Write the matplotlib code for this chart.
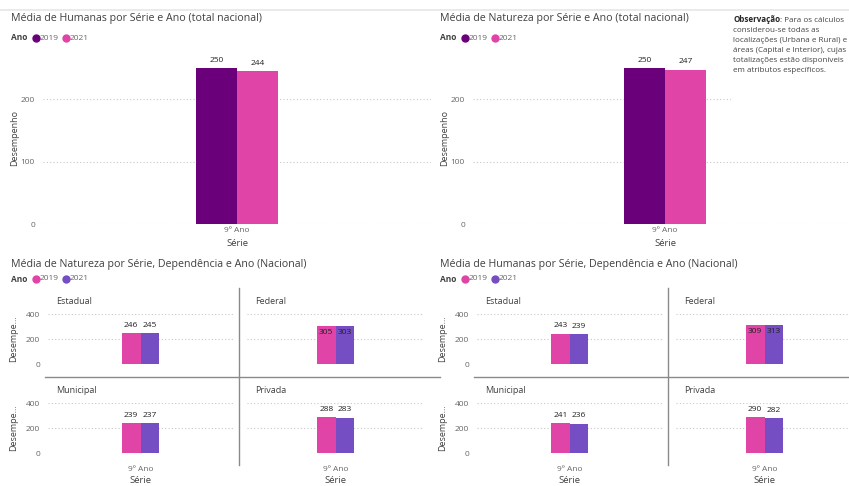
import matplotlib
matplotlib.use("Agg")
import matplotlib.pyplot as plt
from matplotlib.patches import Rectangle
from matplotlib.lines import Line2D

plt.rcParams['font.family'] = ['Open Sans', 'DejaVu Sans']

# ---------------- data ----------------
series_labels = ["9º Ano"]
years = ["2019", "2021"]
hum_total = [250, 244]
nat_total = [250, 247]
dependencias = ["Estadual", "Federal", "Municipal", "Privada"]
nat_dep_2019 = [246, 305, 239, 288]
nat_dep_2021 = [245, 303, 237, 283]
hum_dep_2019 = [243, 309, 241, 290]
hum_dep_2021 = [239, 313, 236, 282]

# ---------------- style ----------------
W, H = 849, 486
DARK = "#6B007B"
PINK = "#E044A7"
PURP = "#744EC2"
GRID = "#C8C8C8"
TXT = "#404040"
TICK = "#666666"
DIV = "#8A8A8A"

fig = plt.figure(figsize=(W / 100, H / 100), dpi=100)
fig.patch.set_facecolor("white")


def fx(x):
    return x / W


def fy(y):
    return 1 - y / H


def ax_px(x0, y0, x1, y1):
    return fig.add_axes([x0 / W, 1 - y1 / H, (x1 - x0) / W, (y1 - y0) / H])


def legend(x, y, c1, c2):
    fig.text(fx(x), fy(y), "Ano", fontsize=6, fontweight="bold", color=TXT, va="center")
    fig.add_artist(Line2D([fx(x + 25)], [fy(y)], transform=fig.transFigure,
                          marker="o", markersize=5, color=c1, linestyle="none"))
    fig.text(fx(x + 29), fy(y), years[0], fontsize=6, color=TICK, va="center")
    fig.add_artist(Line2D([fx(x + 55)], [fy(y)], transform=fig.transFigure,
                          marker="o", markersize=5, color=c2, linestyle="none"))
    fig.text(fx(x + 59), fy(y), years[1], fontsize=6, color=TICK, va="center")


def style_axis(ax):
    for s in ax.spines.values():
        s.set_visible(False)
    ax.set_axisbelow(True)
    ax.yaxis.grid(True, linestyle=(0, (1, 2)), color=GRID, linewidth=0.8)
    ax.tick_params(length=0, labelsize=6, labelcolor=TICK)
    ax.set_facecolor("none")


# ---------------- top charts ----------------
def top_chart(x0, x1, vals):
    ax = ax_px(x0, 50, x1, 224)
    ppu = 0.625  # pixels per unit
    ax.set_ylim(0, 174 / ppu)
    ax.set_xlim(-0.5, 0.5)
    bw = 41 / (x1 - x0)
    xs = [-bw / 2, bw / 2]
    cols = [DARK, PINK]
    for xpos, v, c in zip(xs, vals, cols):
        ax.bar(xpos, v, bw, color=c, zorder=3)
        ax.annotate(str(v), (xpos, v), xytext=(0, 3), textcoords="offset points",
                    ha="center", va="bottom", fontsize=6, color="#222222")
    ax.set_yticks([0, 100, 200])
    ax.set_xticks([0])
    ax.set_xticklabels(series_labels)
    style_axis(ax)
    ax.tick_params(axis="y", pad=5.8)
    ax.tick_params(axis="x", pad=2.5)
    fig.text(fx(x0 - 28), fy(138), "Desempenho", rotation=90, fontsize=6.5,
             color=TXT, ha="center", va="center")
    fig.text(fx((x0 + x1) / 2), fy(243), "Série", fontsize=6.8, color=TXT,
             ha="center", va="center")
    return ax


top_chart(43, 431, hum_total)
top_chart(473, 857, nat_total)

fig.text(fx(11), fy(18), "Média de Humanas por Série e Ano (total nacional)",
         fontsize=7.7, color=TXT, va="center")
fig.text(fx(440), fy(18), "Média de Natureza por Série e Ano (total nacional)",
         fontsize=7.7, color=TXT, va="center")
legend(11, 38, DARK, PINK)
legend(440, 38, DARK, PINK)

# white box under observation
fig.patches.append(Rectangle((fx(731), fy(130)), fx(849) - fx(731), fy(12) - fy(130),
                             transform=fig.transFigure, facecolor="white",
                             edgecolor="none", zorder=5))
obs_lines = ["considerou-se todas as",
             "localizações (Urbana e Rural) e",
             "áreas (Capital e Interior), cujas",
             "totalizações estão disponíveis",
             "em atributos específicos."]
t_bold = fig.text(fx(733), fy(20), "Observação", fontsize=5.8, fontweight="bold",
                  color="#252525", va="center", zorder=6)
renderer = fig.canvas.get_renderer()
bb = t_bold.get_window_extent(renderer=renderer)
fig.text(bb.x1 / W, fy(20), ": Para os cálculos", fontsize=5.8, color="#444444",
         va="center", zorder=6)
for i, line in enumerate(obs_lines):
    fig.text(fx(733), fy(30 + 10 * i), line, fontsize=5.8, color="#444444",
             va="center", zorder=6)

# top faint line
fig.add_artist(Line2D([0, 1], [fy(10), fy(10)], transform=fig.transFigure,
                      color="#E6E6E6", linewidth=1.2))


# ---------------- bottom small multiples ----------------
def panel(x0, x1, y0, y1, name, v19, v21, show_y, show_x):
    ax = ax_px(x0, y0, x1, y1)
    ax.set_ylim(0, 400)
    ax.set_xlim(-0.5, 0.5)
    bw = 18.5 / (x1 - x0)
    xs = [-bw / 2, bw / 2]
    for xpos, v, c in zip(xs, [v19, v21], [PINK, PURP]):
        ax.bar(xpos, v, bw, color=c, zorder=3)
        if v > 300:
            ax.annotate(str(v), (xpos, v), xytext=(0, -2), textcoords="offset points",
                        ha="center", va="top", fontsize=6, color="#222222")
        else:
            ax.annotate(str(v), (xpos, v), xytext=(0, 3), textcoords="offset points",
                        ha="center", va="bottom", fontsize=6, color="#222222")
    ax.set_yticks([0, 200, 400])
    ax.set_xticks([0])
    style_axis(ax)
    ax.tick_params(axis="y", pad=5.8)
    if show_x:
        ax.set_xticklabels(series_labels)
        ax.tick_params(axis="x", pad=9.5)
        fig.text(fx((x0 + x1) / 2), fy(480.5), "Série", fontsize=6.8, color=TXT,
                 ha="center", va="center")
    else:
        ax.set_xticklabels([])
    if not show_y:
        ax.set_yticklabels([])
    else:
        fig.text(fx(x0 - 34), fy((y0 + y1) / 2), "Desempe...", rotation=90,
                 fontsize=6.5, color=TXT, ha="center", va="center")
    fig.text(fx(x0 + 8), fy(y0 - 13), name, fontsize=6.5, color=TXT, va="center")
    return ax


def small_multiples(ox, title, d19, d21):
    fig.text(fx(ox + 11), fy(265), title, fontsize=7.7, color=TXT, va="center")
    legend(ox + 11, 279, PINK, PURP)
    cols = [(ox + 48, ox + 233), (ox + 247, ox + 424)]
    rows = [(314, 364), (403, 453)]
    for i, name in enumerate(dependencias):
        r, c = divmod(i, 2)
        panel(cols[c][0], cols[c][1], rows[r][0], rows[r][1], name, d19[i], d21[i],
              show_y=(c == 0), show_x=(r == 1))
    # dividers
    fig.add_artist(Line2D([fx(ox + 239), fx(ox + 239)], [fy(288), fy(465)],
                          transform=fig.transFigure, color=DIV, linewidth=1))
    fig.add_artist(Line2D([fx(ox + 45), fx(ox + 440)], [fy(377), fy(377)],
                          transform=fig.transFigure, color=DIV, linewidth=1))


small_multiples(0, "Média de Natureza por Série, Dependência e Ano (Nacional)",
                nat_dep_2019, nat_dep_2021)
small_multiples(429, "Média de Humanas por Série, Dependência e Ano (Nacional)",
                hum_dep_2019, hum_dep_2021)

fig.savefig("out.png", dpi=100, facecolor="white")
